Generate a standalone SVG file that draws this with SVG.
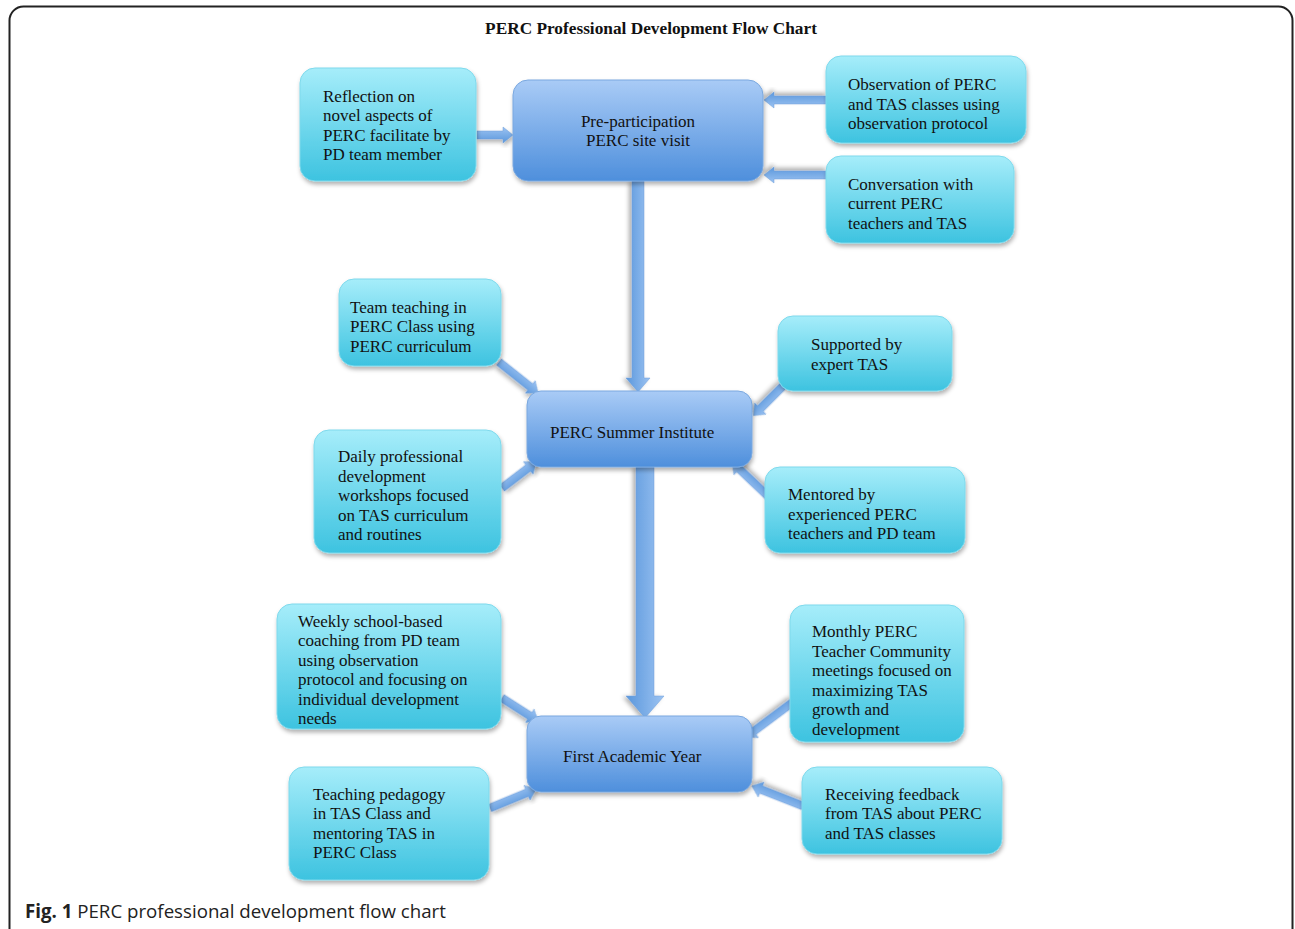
<svg xmlns="http://www.w3.org/2000/svg" width="1295" height="929" viewBox="0 0 1295 929">
<defs>
<linearGradient id="gCyan" x1="0" y1="0" x2="0" y2="1">
<stop offset="0" stop-color="#a6edfa"/>
<stop offset="1" stop-color="#3dc3e0"/>
</linearGradient>
<linearGradient id="gBlue" x1="0" y1="0" x2="0" y2="1">
<stop offset="0" stop-color="#a9cbf6"/>
<stop offset="1" stop-color="#4e8fdc"/>
</linearGradient>
<linearGradient id="gArrow" x1="0" y1="0" x2="0" y2="1">
<stop offset="0" stop-color="#9cc3f2"/>
<stop offset="1" stop-color="#5a97dc"/>
</linearGradient>
<filter id="sh" x="-10%" y="-10%" width="130%" height="140%">
<feDropShadow dx="1" dy="3" stdDeviation="2" flood-color="#000" flood-opacity="0.3"/>
</filter>
<style>
.cy{fill:url(#gCyan);stroke:#7fd9ec;stroke-width:1;filter:url(#sh)}
.bl{fill:url(#gBlue);stroke:#7aa8df;stroke-width:1;filter:url(#sh)}
.t{font-family:"Liberation Serif","Times New Roman",serif;font-size:17px;fill:#111}
.ar{fill:url(#gArrow);stroke:#6e9fd8;stroke-width:0.5;filter:url(#sh)}
</style>
</defs>
<rect x="0" y="0" width="1295" height="929" fill="#fff"/>
<rect x="9.5" y="6.5" width="1283" height="960" rx="14" fill="none" stroke="#222" stroke-width="2"/>
<text x="651" y="34" text-anchor="middle" font-family="'Liberation Serif','Times New Roman',serif" font-weight="bold" font-size="17.3" fill="#111">PERC Professional Development Flow Chart</text>

<g id="connectors">
<path class="ar" transform="translate(477,135)" d="M0,-4 L26,-4 L26,-8 L36,0 L26,8 L26,4 L0,4Z"/>
<path class="ar" transform="translate(826,100) rotate(180)" d="M0,-4 L52,-4 L52,-8 L62,0 L52,8 L52,4 L0,4Z"/>
<path class="ar" transform="translate(826,175) rotate(180)" d="M0,-4 L52,-4 L52,-8 L62,0 L52,8 L52,4 L0,4Z"/>
<path class="ar" transform="translate(638,181) rotate(90)" d="M0,-6 L197,-6 L197,-12 L211,0 L197,12 L197,6 L0,6Z"/>
<path class="ar" transform="translate(499,362) rotate(38.5)" d="M0,-4 L40,-4 L40,-8 L50,0 L40,8 L40,4 L0,4Z"/>
<path class="ar" transform="translate(783,386) rotate(135)" d="M0,-4 L32,-4 L32,-8 L42,0 L32,8 L32,4 L0,4Z"/>
<path class="ar" transform="translate(502,488) rotate(-37.4)" d="M0,-4 L33,-4 L33,-8 L43,0 L33,8 L33,4 L0,4Z"/>
<path class="ar" transform="translate(772,500) rotate(223.5)" d="M0,-4 L45,-4 L45,-8 L55,0 L45,8 L45,4 L0,4Z"/>
<path class="ar" transform="translate(645,467) rotate(90)" d="M0,-9 L229,-9 L229,-19 L251,0 L229,19 L229,9 L0,9Z"/>
<path class="ar" transform="translate(502,698) rotate(32.6)" d="M0,-4 L33,-4 L33,-8 L43,0 L33,8 L33,4 L0,4Z"/>
<path class="ar" transform="translate(793,702) rotate(143.3)" d="M0,-4 L49,-4 L49,-8 L59,0 L49,8 L49,4 L0,4Z"/>
<path class="ar" transform="translate(490,808) rotate(-22.4)" d="M0,-4 L40,-4 L40,-8 L50,0 L40,8 L40,4 L0,4Z"/>
<path class="ar" transform="translate(803,806) rotate(201.4)" d="M0,-4 L45,-4 L45,-8 L55,0 L45,8 L45,4 L0,4Z"/>
</g>

<g id="reflection">
<rect class="cy" x="300" y="68" width="176" height="113" rx="15"/>
<text class="t" x="323" y="102">Reflection on</text>
<text class="t" x="323" y="121">novel aspects of</text>
<text class="t" x="323" y="141">PERC facilitate by</text>
<text class="t" x="323" y="160">PD team member</text>
</g>
<g id="preparticipation">
<rect class="bl" x="513" y="80" width="250" height="101" rx="15"/>
<text class="t" x="638" y="127" text-anchor="middle">Pre-participation</text>
<text class="t" x="638" y="146" text-anchor="middle">PERC site visit</text>
</g>
<g id="observation">
<rect class="cy" x="826" y="56" width="200" height="87" rx="15"/>
<text class="t" x="848" y="90">Observation of PERC</text>
<text class="t" x="848" y="110">and TAS classes using</text>
<text class="t" x="848" y="129">observation protocol</text>
</g>
<g id="conversation">
<rect class="cy" x="826" y="156" width="188" height="87" rx="15"/>
<text class="t" x="848" y="190">Conversation with</text>
<text class="t" x="848" y="209">current PERC</text>
<text class="t" x="848" y="229">teachers and TAS</text>
</g>
<g id="teamteaching">
<rect class="cy" x="339" y="279" width="162" height="87" rx="15"/>
<text class="t" x="350" y="313">Team teaching in</text>
<text class="t" x="350" y="332">PERC Class using</text>
<text class="t" x="350" y="352">PERC curriculum</text>
</g>
<g id="supported">
<rect class="cy" x="778" y="316" width="174" height="75" rx="15"/>
<text class="t" x="811" y="350">Supported by</text>
<text class="t" x="811" y="370">expert TAS</text>
</g>
<g id="summerinstitute">
<rect class="bl" x="527" y="391" width="225" height="76" rx="14"/>
<text class="t" x="550" y="438">PERC Summer Institute</text>
</g>
<g id="daily">
<rect class="cy" x="314" y="430" width="187" height="123" rx="15"/>
<text class="t" x="338" y="462">Daily professional</text>
<text class="t" x="338" y="482">development</text>
<text class="t" x="338" y="501">workshops focused</text>
<text class="t" x="338" y="521">on TAS curriculum</text>
<text class="t" x="338" y="540">and routines</text>
</g>
<g id="mentored">
<rect class="cy" x="765" y="467" width="200" height="86" rx="15"/>
<text class="t" x="788" y="500">Mentored by</text>
<text class="t" x="788" y="520">experienced PERC</text>
<text class="t" x="788" y="539">teachers and PD team</text>
</g>
<g id="weekly">
<rect class="cy" x="277" y="604" width="224" height="125" rx="15"/>
<text class="t" x="298" y="627">Weekly school-based</text>
<text class="t" x="298" y="646">coaching from PD team</text>
<text class="t" x="298" y="666">using observation</text>
<text class="t" x="298" y="685">protocol and focusing on</text>
<text class="t" x="298" y="705">individual development</text>
<text class="t" x="298" y="724">needs</text>
</g>
<g id="monthly">
<rect class="cy" x="790" y="605" width="174" height="137" rx="15"/>
<text class="t" x="812" y="637">Monthly PERC</text>
<text class="t" x="812" y="657">Teacher Community</text>
<text class="t" x="812" y="676">meetings focused on</text>
<text class="t" x="812" y="696">maximizing TAS</text>
<text class="t" x="812" y="715">growth and</text>
<text class="t" x="812" y="735">development</text>
</g>
<g id="firstyear">
<rect class="bl" x="527" y="716" width="225" height="76" rx="14"/>
<text class="t" x="563" y="762">First Academic Year</text>
</g>
<g id="teaching">
<rect class="cy" x="289" y="767" width="200" height="113" rx="15"/>
<text class="t" x="313" y="800">Teaching pedagogy</text>
<text class="t" x="313" y="819">in TAS Class and</text>
<text class="t" x="313" y="839">mentoring TAS in</text>
<text class="t" x="313" y="858">PERC Class</text>
</g>
<g id="receiving">
<rect class="cy" x="802" y="767" width="200" height="87" rx="15"/>
<text class="t" x="825" y="800">Receiving feedback</text>
<text class="t" x="825" y="819">from TAS about PERC</text>
<text class="t" x="825" y="839">and TAS classes</text>
</g>

<text x="25" y="918" font-family="'Open Sans','Liberation Sans',sans-serif" font-size="18.7" fill="#222"><tspan font-weight="bold">Fig. 1</tspan> PERC professional development flow chart</text>
</svg>
